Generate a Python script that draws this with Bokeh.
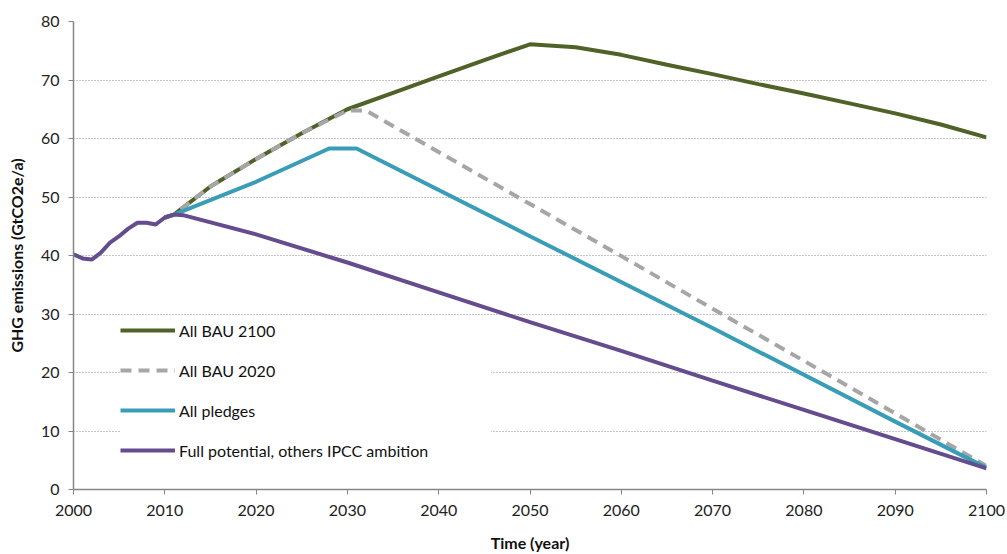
from bokeh.plotting import figure
from bokeh.models import Legend, LegendItem, FixedTicker
from bokeh.embed import file_html
from bokeh.resources import INLINE

# shared history 2000-2011 (drawn by the "full potential" series)
hist_years = [2000, 2001, 2002, 2003, 2004, 2005, 2006, 2007, 2008, 2009, 2010, 2011]
hist_vals = [40.2, 39.5, 39.3, 40.5, 42.2, 43.3, 44.6, 45.6, 45.6, 45.3, 46.5, 47.0]

bau2100_years = [2010, 2011, 2015, 2020, 2025, 2030, 2035, 2040, 2045, 2050, 2055, 2060, 2065, 2070, 2075, 2080, 2085, 2090, 2095, 2100]
bau2100_vals = [46.5, 47.0, 51.8, 56.5, 60.9, 65.0, 67.8, 70.6, 73.4, 76.1, 75.6, 74.3, 72.6, 71.0, 69.3, 67.7, 66.0, 64.3, 62.4, 60.2]

bau2020_years = [2010, 2011, 2015, 2020, 2025, 2030, 2032, 2050, 2060, 2070, 2080, 2090, 2100]
bau2020_vals = [46.5, 47.0, 51.8, 56.5, 60.9, 64.8, 64.8, 48.8, 39.9, 30.9, 22.0, 13.0, 4.0]

pledges_years = [2010, 2011, 2020, 2028, 2031, 2050, 2070, 2090, 2100]
pledges_vals = [46.5, 47.0, 52.6, 58.3, 58.3, 43.3, 27.6, 11.6, 3.7]

full_years = hist_years + [2012, 2020, 2030, 2040, 2050, 2060, 2070, 2080, 2090, 2100]
full_vals = hist_vals + [46.9, 43.6, 38.8, 33.7, 28.6, 23.7, 18.6, 13.6, 8.6, 3.6]

series_names = ["All BAU 2100", "All BAU 2020", "All pledges", "Full potential, others IPCC ambition"]
x_ticks = list(range(2000, 2101, 10))
y_ticks = list(range(0, 81, 10))

FONT = "Lato"
AX = "#868686"

p = figure(width=1007, height=554, x_range=(2000, 2100), y_range=(0, 80),
           output_backend="svg", toolbar_location=None,
           min_border_left=73, min_border_right=21, min_border_top=21, min_border_bottom=65)
p.outline_line_color = None
p.background_fill_color = "white"

colors = ["#4F6228", "#A6A6A6", "#3A9DB7", "#654C8E"]
r_b21 = p.line(bau2100_years, bau2100_vals, line_color=colors[0], line_width=4)
r_b20 = p.line(bau2020_years, bau2020_vals, line_color=colors[1], line_width=4, line_dash="11 7")
r_pl = p.line(pledges_years, pledges_vals, line_color=colors[2], line_width=4)
r_full = p.line(full_years, full_vals, line_color=colors[3], line_width=4)

for ax in (p.xaxis[0], p.yaxis[0]):
    ax.axis_line_color = AX
    ax.axis_line_width = 1.5
    ax.major_tick_line_color = AX
    ax.major_tick_out = 5
    ax.major_tick_in = 0
    ax.minor_tick_line_color = None
    ax.major_label_text_font = FONT
    ax.major_label_text_font_size = "16px"
    ax.major_label_text_color = "#222222"
    ax.axis_label_text_font = FONT
    ax.axis_label_text_font_size = "16px"
    ax.axis_label_text_font_style = "bold"
    ax.axis_label_text_color = "#111111"

p.xaxis.ticker = FixedTicker(ticks=x_ticks)
p.yaxis.ticker = FixedTicker(ticks=y_ticks)
p.xaxis.axis_label = "Time (year)"
p.yaxis.axis_label = "GHG emissions (GtCO2e/a)"
p.xaxis.major_label_standoff = 10
p.yaxis.major_label_standoff = 9
p.xaxis.axis_label_standoff = 14
p.yaxis.axis_label_standoff = 12

p.xgrid.grid_line_color = None
p.ygrid.ticker = FixedTicker(ticks=y_ticks[1:])
p.ygrid.grid_line_color = "#8C8C8C"
p.ygrid.grid_line_dash = "1 2"
p.ygrid.grid_line_width = 1.2

legend = Legend(items=[
    LegendItem(label=series_names[0], renderers=[r_b21]),
    LegendItem(label=series_names[1], renderers=[r_b20]),
    LegendItem(label=series_names[2], renderers=[r_pl]),
    LegendItem(label=series_names[3], renderers=[r_full]),
], location=(47, 29))
legend.border_line_color = None
legend.background_fill_color = "white"
legend.background_fill_alpha = 1.0
legend.padding = 16
legend.margin = 0
legend.spacing = 20
legend.glyph_width = 55
legend.glyph_height = 20
legend.label_standoff = 4
legend.label_text_font = FONT
legend.label_text_font_size = "16px"
legend.label_text_color = "#111111"
legend.label_height = 20
legend.label_width = 312
p.add_layout(legend)

open("out.html", "w").write(file_html(p, INLINE))
